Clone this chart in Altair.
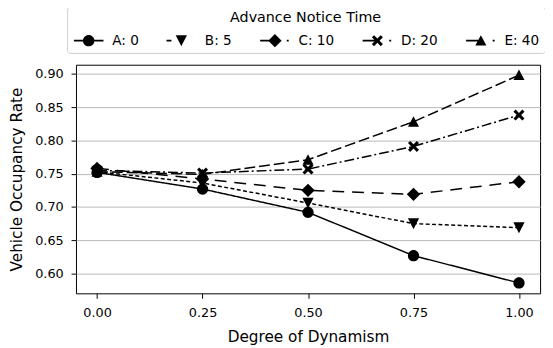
import altair as alt
import pandas as pd

# ---------------- data ----------------
dynamism = [0.0, 0.25, 0.5, 0.75, 1.0]
series_names = ["A: 0", "B: 5", "C: 10", "D: 20", "E: 40"]
series_A = [0.752, 0.727, 0.692, 0.627, 0.586]
series_B = [0.753, 0.736, 0.706, 0.675, 0.669]
series_C = [0.758, 0.742, 0.725, 0.719, 0.738]
series_D = [0.755, 0.751, 0.757, 0.791, 0.838]
series_E = [0.753, 0.749, 0.771, 0.828, 0.898]
x_ticks = [0.0, 0.25, 0.5, 0.75, 1.0]
y_ticks = [0.60, 0.65, 0.70, 0.75, 0.80, 0.85, 0.90]

rows = []
for name, vals in zip(series_names, [series_A, series_B, series_C, series_D, series_E]):
    for xv, yv in zip(dynamism, vals):
        rows.append({"x": xv, "y": yv, "series": name})
df = pd.DataFrame(rows)

# matplotlib-like 5% margins
def margins(vals):
    lo, hi = min(vals), max(vals)
    r = hi - lo
    return [lo - 0.05 * r, hi + 0.05 * r]

x_dom = margins(df["x"].tolist())
y_dom = margins(df["y"].tolist())

# ---------------- marker shapes ----------------
def poly(pts, s=1.0, dx=0.0):
    return "M" + "L".join(f"{(x + dx) * s:.3f},{y * s:.3f}" for x, y in pts) + "Z"

def circ(r, s=1.0, dx=0.0):
    c = dx * s
    r = r * s
    return (f"M{c + r:.3f},0A{r:.3f},{r:.3f} 0 1,1 {c - r:.3f},0"
            f"A{r:.3f},{r:.3f} 0 1,1 {c + r:.3f},0Z")

def seg(a, b, s=1.0, dx=0.0, w=0.8):
    # thin filled bar standing in for a line segment
    return poly([(a, -w), (b, -w), (b, w), (a, w)], s, dx)

tri_down = [(-5.7, -5.4), (5.7, -5.4), (0, 5.6)]
tri_up = [(0, -5.6), (5.6, 5.0), (-5.6, 5.0)]
diamond = [(0, -6.8), (6.8, 0), (0, 6.8), (-6.8, 0)]
e, d = 5.6, 2.2
xshape = [(0, -d), (e - d, -e), (e, -e + d), (d, 0), (e, e - d), (e - d, e),
          (0, d), (-e + d, e), (-e, e - d), (-d, 0), (-e, -e + d), (-e + d, -e)]

# plot markers: size 4 -> 1 path unit == 1 px
marker_paths = [circ(5.7), poly(tri_down), poly(diamond), poly(xshape), poly(tri_up)]

# legend handles: symbolSize 100 -> 1 path unit == 5 px ; shifted right by 10 px
k = 1 / 5.0
sh = 10.0
legend_paths = [
    seg(-15, 15, k, sh) + circ(5.8, k, sh),
    seg(-15, -10, k, sh) + poly(tri_down, k, sh),
    seg(-15, 0, k, sh) + poly(diamond, k, sh) + seg(12, 14, k, sh),
    seg(-15, 0, k, sh) + poly(xshape, k, sh) + seg(12, 14, k, sh),
    seg(-15, 0, k, sh) + poly(tri_up, k, sh) + seg(12, 14, k, sh),
]

dashes = [[1, 0], [4, 2.5], [12, 8], [10, 3, 2, 3], [11, 4]]

FONT = "DejaVu Sans"

x_enc = alt.X("x:Q", scale=alt.Scale(domain=x_dom, nice=False, zero=False),
              axis=alt.Axis(values=x_ticks, format=".2f", title="Degree of Dynamism", grid=False))
y_enc = alt.Y("y:Q", scale=alt.Scale(domain=y_dom, nice=False, zero=False),
              axis=alt.Axis(values=y_ticks, format=".2f", title="Vehicle Occupancy Rate", grid=True))

lines = alt.Chart(df).mark_line(color="black", strokeWidth=1.5).encode(
    x=x_enc, y=y_enc,
    strokeDash=alt.StrokeDash("series:N", scale=alt.Scale(domain=series_names, range=dashes), legend=None),
)

points = alt.Chart(df).mark_point(filled=True, color="black", size=4, opacity=1, strokeWidth=0).encode(
    x=x_enc, y=y_enc,
    shape=alt.Shape("series:N", scale=alt.Scale(domain=series_names, range=marker_paths), legend=None),
)

legend_layer = alt.Chart(df).transform_filter("datum.x > 5").mark_point(
    filled=True, color="black", opacity=1, strokeWidth=0
).encode(
    x=x_enc, y=y_enc,
    shape=alt.Shape(
        "series:N",
        scale=alt.Scale(domain=series_names, range=legend_paths),
        legend=alt.Legend(
            title="Advance Notice Time",
            orient="none", legendX=-9, legendY=-59,
            direction="horizontal", columns=5,
            titleAnchor="middle", titleFont=FONT, titleFontSize=14.5, titleFontWeight="normal",
            titleColor="black", titlePadding=8,
            labelFont=FONT, labelFontSize=13.8, labelColor="black", labelOffset=27,
            symbolSize=100, symbolFillColor="black", symbolOpacity=1, symbolStrokeWidth=0,
            columnPadding=26, padding=5,
            strokeColor="#cccccc", fillColor="white", cornerRadius=3,
        ),
    ),
)

chart = alt.layer(lines, points, legend_layer).resolve_scale(
    shape="independent", strokeDash="independent"
).properties(
    width=471, height=232,
    padding={"left": 69, "top": 55, "right": 5, "bottom": 60},
    autosize=alt.AutoSizeParams(type="none"),
).configure_view(
    stroke="black", strokeWidth=1
).configure_axis(
    domain=False, tickColor="black", tickSize=5, tickWidth=1,
    labelFont=FONT, labelFontSize=13, labelColor="black",
    titleFont=FONT, titleFontSize=15.5, titleFontWeight="normal", titleColor="black",
    gridColor="#b8b8b8", gridWidth=1,
).configure_axisY(titlePadding=10, labelPadding=8).configure_axisX(titlePadding=10, labelPadding=9)

chart.save("out.html", embed_options={"renderer": "svg", "actions": False})
